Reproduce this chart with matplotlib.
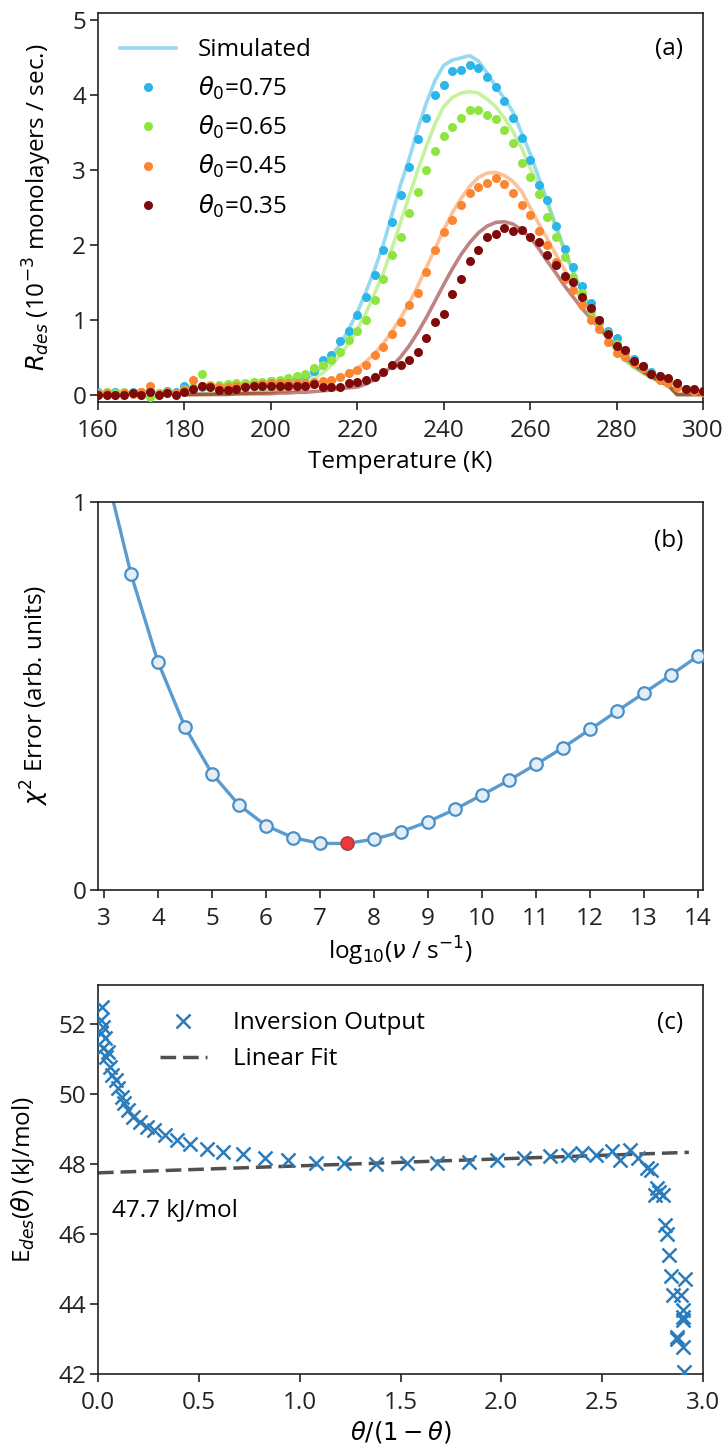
import numpy as np
import matplotlib
matplotlib.use("Agg")
import matplotlib.pyplot as plt

plt.rcParams['font.family'] = ['Open Sans', 'DejaVu Sans']
plt.rcParams['mathtext.fontset'] = 'dejavusans'
FS = 17.5
plt.rcParams['font.size'] = FS

# ---------------- Panel (a) data ----------------
temp_exp = list(range(160, 302, 2))
rate_075 = [0.03, 0.02, 0.04, 0.02, 0.04, 0.03, 0.05, 0.02, 0.05, 0.04,
            0.12, 0.08, 0.10, 0.12, 0.12, 0.13, 0.13, 0.14, 0.15, 0.16,
            0.18, 0.17, 0.20, 0.22, 0.26, 0.32, 0.46, 0.53, 0.71, 0.85,
            1.06, 1.30, 1.60, 1.93, 2.30, 2.67, 3.04, 3.41, 3.70, 4.00,
            4.14, 4.32, 4.34, 4.40, 4.36, 4.25, 4.11, 3.92, 3.70, 3.43,
            3.13, 2.80, 2.60, 2.25, 1.95, 1.70, 1.45, 1.23, 1.00, 0.85,
            0.75, 0.60, 0.48, 0.38, 0.30, 0.25, 0.20, 0.15, 0.08, 0.06, 0.05]
rate_065 = [0.02, 0.03, 0.02, 0.03, 0.02, 0.03, -0.03, 0.02, 0.03, 0.02,
            0.08, 0.10, 0.27, 0.13, 0.13, 0.14, 0.15, 0.16, 0.17, 0.17,
            0.18, 0.19, 0.22, 0.25, 0.28, 0.35, 0.40, 0.46, 0.57, 0.73,
            0.85, 1.00, 1.26, 1.55, 1.86, 2.11, 2.42, 2.71, 3.00, 3.25,
            3.45, 3.58, 3.70, 3.81, 3.80, 3.74, 3.68, 3.53, 3.36, 3.09,
            2.91, 2.68, 2.37, 2.10, 1.84, 1.57, 1.36, 1.12, 0.95, 0.82,
            0.68, 0.55, 0.45, 0.36, 0.28, 0.22, 0.17, 0.10, 0.07, 0.05, 0.04]
rate_045 = [0.01, 0.02, 0.00, 0.02, 0.01, 0.03, 0.12, 0.01, 0.03, 0.02,
            0.06, 0.19, 0.12, 0.11, 0.10, 0.10, 0.12, 0.12, 0.13, 0.14,
            0.15, 0.15, 0.16, 0.15, 0.16, 0.17, 0.18, 0.20, 0.24, 0.29,
            0.33, 0.40, 0.53, 0.63, 0.81, 0.97, 1.19, 1.36, 1.64, 1.93,
            2.17, 2.33, 2.53, 2.70, 2.78, 2.83, 2.89, 2.81, 2.70, 2.53,
            2.40, 2.18, 2.00, 1.77, 1.55, 1.40, 1.20, 1.00, 0.88, 0.70,
            0.55, 0.50, 0.42, 0.35, 0.27, 0.20, 0.15, 0.10, 0.07, 0.05, 0.04]
rate_035 = [0.00, 0.00, 0.00, 0.00, 0.02, 0.00, 0.04, 0.00, 0.02, 0.00,
            0.04, 0.08, 0.12, 0.10, 0.06, 0.06, 0.07, 0.10, 0.11, 0.12,
            0.11, 0.11, 0.12, 0.12, 0.12, 0.14, 0.10, 0.10, 0.10, 0.15,
            0.17, 0.19, 0.23, 0.30, 0.39, 0.39, 0.46, 0.57, 0.75, 0.97,
            1.08, 1.35, 1.55, 1.79, 1.93, 2.11, 2.15, 2.22, 2.18, 2.20,
            2.11, 2.04, 1.86, 1.73, 1.59, 1.50, 1.30, 1.15, 0.99, 0.81,
            0.65, 0.60, 0.45, 0.38, 0.28, 0.25, 0.22, 0.15, 0.07, 0.07, 0.05]

temp_sim = list(range(180, 302, 2))
sim_075 = [0.00, 0.00, 0.01, 0.01, 0.01, 0.01, 0.02, 0.02, 0.03, 0.04,
           0.05, 0.07, 0.10, 0.14, 0.20, 0.28, 0.38, 0.51, 0.67, 0.87,
           1.10, 1.37, 1.67, 2.00, 2.40, 2.80, 3.15, 3.55, 3.90, 4.20,
           4.40, 4.47, 4.50, 4.53, 4.46, 4.30, 4.12, 3.96, 3.78, 3.50,
           3.22, 2.90, 2.58, 2.25, 1.93, 1.64, 1.38, 1.14, 0.93, 0.74,
           0.58, 0.46, 0.37, 0.30, 0.23, 0.18, 0.12, 0.00, 0.00, 0.00, 0.00]
sim_065 = [0.00, 0.00, 0.00, 0.01, 0.01, 0.01, 0.01, 0.02, 0.02, 0.03,
           0.04, 0.06, 0.08, 0.11, 0.15, 0.21, 0.29, 0.39, 0.52, 0.68,
           0.87, 1.09, 1.35, 1.62, 1.95, 2.30, 2.65, 3.00, 3.32, 3.62,
           3.85, 3.97, 4.03, 4.05, 4.03, 3.95, 3.85, 3.70, 3.52, 3.30,
           3.03, 2.80, 2.55, 2.22, 1.91, 1.62, 1.37, 1.13, 0.92, 0.74,
           0.58, 0.46, 0.36, 0.29, 0.22, 0.17, 0.12, 0.00, 0.00, 0.00, 0.00]
sim_045 = [0.00, 0.00, 0.00, 0.00, 0.01, 0.01, 0.01, 0.01, 0.02, 0.02,
           0.03, 0.04, 0.05, 0.06, 0.08, 0.10, 0.13, 0.17, 0.22, 0.28,
           0.35, 0.44, 0.55, 0.68, 0.84, 1.02, 1.22, 1.45, 1.70, 1.95,
           2.20, 2.43, 2.62, 2.78, 2.90, 2.96, 2.97, 2.93, 2.85, 2.72,
           2.50, 2.28, 2.08, 1.87, 1.66, 1.45, 1.26, 1.08, 0.92, 0.77,
           0.63, 0.50, 0.40, 0.31, 0.24, 0.18, 0.12, 0.00, 0.00, 0.00, 0.00]
sim_035 = [0.00, 0.00, 0.00, 0.00, 0.00, 0.00, 0.01, 0.01, 0.01, 0.01,
           0.01, 0.02, 0.02, 0.03, 0.03, 0.04, 0.05, 0.06, 0.08, 0.09,
           0.10, 0.14, 0.20, 0.28, 0.38, 0.50, 0.65, 0.83, 1.03, 1.25,
           1.47, 1.68, 1.87, 2.03, 2.16, 2.25, 2.30, 2.31, 2.28, 2.20,
           2.10, 1.95, 1.78, 1.62, 1.45, 1.30, 1.15, 1.02, 0.89, 0.76,
           0.63, 0.50, 0.40, 0.31, 0.24, 0.18, 0.12, 0.00, 0.00, 0.00, 0.00]

coverage_labels = [r'$\theta_0$=0.75', r'$\theta_0$=0.65', r'$\theta_0$=0.45', r'$\theta_0$=0.35']
series_colors = ['#2cb5e8', '#8ee53f', '#fb8531', '#7f0a0a']

# ---------------- Panel (b) data ----------------
log_nu = [3.0, 3.5, 4.0, 4.5, 5.0, 5.5, 6.0, 6.5, 7.0, 7.5, 8.0, 8.5, 9.0,
          9.5, 10.0, 10.5, 11.0, 11.5, 12.0, 12.5, 13.0, 13.5, 14.0]
chi2 = [1.10, 0.815, 0.588, 0.420, 0.300, 0.219, 0.166, 0.135, 0.120, 0.120,
        0.131, 0.150, 0.176, 0.208, 0.245, 0.283, 0.324, 0.367, 0.414, 0.461,
        0.508, 0.555, 0.603]
best_log_nu = 7.5
best_chi2 = 0.120

# ---------------- Panel (c) data ----------------
theta_ratio = [0.015, 0.017, 0.021, 0.026, 0.026, 0.035, 0.040, 0.048, 0.060, 0.071,
               0.088, 0.100, 0.117, 0.130, 0.150, 0.175, 0.208, 0.241, 0.279, 0.332,
               0.390, 0.456, 0.539, 0.621, 0.720, 0.828, 0.944, 1.080, 1.220, 1.380,
               1.530, 1.680, 1.840, 1.980, 2.110, 2.240, 2.330, 2.400, 2.470, 2.550,
               2.590, 2.640, 2.680, 2.720, 2.740, 2.760, 2.770, 2.780, 2.800, 2.810,
               2.820, 2.830, 2.840, 2.850, 2.870, 2.870, 2.890, 2.900, 2.900, 2.900,
               2.900, 2.905, 2.910]
e_des = [52.10, 51.72, 52.48, 51.91, 51.29, 51.58, 51.05, 51.20, 50.77, 50.53,
         50.39, 50.15, 49.91, 49.73, 49.53, 49.34, 49.20, 49.06, 48.96, 48.82,
         48.68, 48.56, 48.41, 48.34, 48.28, 48.15, 48.10, 48.03, 48.01, 47.99,
         48.01, 48.01, 48.04, 48.10, 48.15, 48.22, 48.25, 48.30, 48.25, 48.35,
         48.12, 48.39, 48.16, 47.88, 47.83, 47.10, 47.31, 47.20, 47.10, 46.25,
         46.00, 45.40, 44.80, 44.25, 43.06, 43.00, 44.25, 43.83, 43.63, 43.55,
         42.78, 42.07, 44.70]
fit_intercept = 47.74
fit_slope = 0.20
fit_x = [0.0, 2.93]

# ---------------- Figure ----------------
fig = plt.figure(figsize=(7.27, 14.5), dpi=100)
L, W = 98 / 727, 605 / 727
ax_a = fig.add_axes([L, 1 - 402 / 1450, W, 389 / 1450])
ax_b = fig.add_axes([L, 1 - 890 / 1450, W, 388 / 1450])
ax_c = fig.add_axes([L, 1 - 1374 / 1450, W, 389 / 1450])

for ax in (ax_a, ax_b, ax_c):
    for sp in ax.spines.values():
        sp.set_linewidth(1.2)
        sp.set_color('#222222')
    ax.tick_params(direction='out', length=6, width=1.2, labelsize=FS, colors='#222222')
    ax.tick_params(axis='x', pad=6.2)
    ax.tick_params(axis='y', pad=2.5)

# Panel (a)
exp_series = [rate_075, rate_065, rate_045, rate_035]
sim_series = [sim_075, sim_065, sim_045, sim_035]
sim_handle = None
for sim, col in zip(sim_series, series_colors):
    ln, = ax_a.plot(temp_sim, sim, color=col, alpha=0.5, lw=2.6, zorder=2)
    if sim_handle is None:
        sim_handle = ln
dot_handles = []
for exp, col, lab in zip(exp_series, series_colors, coverage_labels):
    h, = ax_a.plot(temp_exp, exp, 'o', color=col, ms=6.5, mec='none', zorder=3, label=lab)
    dot_handles.append(h)
ax_a.set_xlim(160, 300)
ax_a.set_ylim(-0.1, 5.1)
ax_a.set_xticks(range(160, 301, 20))
ax_a.set_yticks(range(0, 6))
ax_a.set_xlabel('Temperature (K)', fontsize=FS, labelpad=5)
ax_a.set_ylabel(r'$R_{des}$ (10$^{-3}$ monolayers / sec.)', fontsize=FS)
ax_a.yaxis.set_label_coords(-0.072, 0.5)
ax_a.legend([sim_handle] + dot_handles, ['Simulated'] + coverage_labels,
            loc='upper left', bbox_to_anchor=(0.02, 0.96), borderaxespad=0,
            frameon=False, numpoints=1, handlelength=2.3, handletextpad=0.9,
            labelspacing=0.5, fontsize=FS)
ax_a.text(0.9675, 0.9075, '(a)', transform=ax_a.transAxes, ha='right', va='center', fontsize=FS)

# Panel (b)
line_col = '#4a90c8'
ax_b.plot(log_nu, chi2, '-', color=line_col, lw=2.4, alpha=0.9, zorder=2)
ax_b.plot(log_nu, chi2, 'o', ms=9, mfc='#e4eef7', mec=line_col, mew=1.6, zorder=3)
ax_b.plot([best_log_nu], [best_chi2], 'o', ms=9, mfc='#f03a3a', mec='#e02a2a', mew=1.2, zorder=4)
ax_b.set_xlim(2.89, 14.09)
ax_b.set_ylim(0, 1)
ax_b.set_xticks(range(3, 15))
ax_b.set_yticks([0, 1])
ax_b.set_xlabel(r'log$_{10}$($\nu$ / s$^{-1}$)', fontsize=FS, labelpad=3)
ax_b.set_ylabel(r'$\chi^2$ Error (arb. units)', fontsize=FS)
ax_b.yaxis.set_label_coords(-0.078, 0.5)
ax_b.text(0.9675, 0.8995, '(b)', transform=ax_b.transAxes, ha='right', va='center', fontsize=FS)

# Panel (c)
x_col = '#2a7cbc'
ax_c.plot(theta_ratio, e_des, 'x', color=x_col, ms=9.5, mew=1.8, zorder=3, label='Inversion Output')
fit_y = [fit_intercept + fit_slope * v for v in fit_x]
ax_c.plot(fit_x, fit_y, '--', color='#505050', lw=2.5, dashes=(4.5, 2), zorder=2, label='Linear Fit')
ax_c.set_xlim(0, 3.0)
ax_c.set_ylim(42, 53.1)
ax_c.set_xticks(np.arange(0, 3.01, 0.5))
ax_c.set_yticks(range(42, 53, 2))
ax_c.set_xlabel(r'$\theta/(1-\theta)$', fontsize=FS, labelpad=3)
ax_c.set_ylabel(r'E$_{des}$($\theta$) (kJ/mol)', fontsize=FS)
ax_c.yaxis.set_label_coords(-0.10, 0.5)
ax_c.legend(loc='upper left', bbox_to_anchor=(0.0864, 0.958), borderaxespad=0,
            frameon=False, numpoints=1, handlelength=1.93, handletextpad=1.07,
            labelspacing=0.5, fontsize=FS)
ax_c.text(0.069, 46.68, '47.7 kJ/mol', ha='left', va='center', fontsize=FS)
ax_c.text(0.9675, 0.902, '(c)', transform=ax_c.transAxes, ha='right', va='center', fontsize=FS)

fig.savefig('out.png', dpi=100)
